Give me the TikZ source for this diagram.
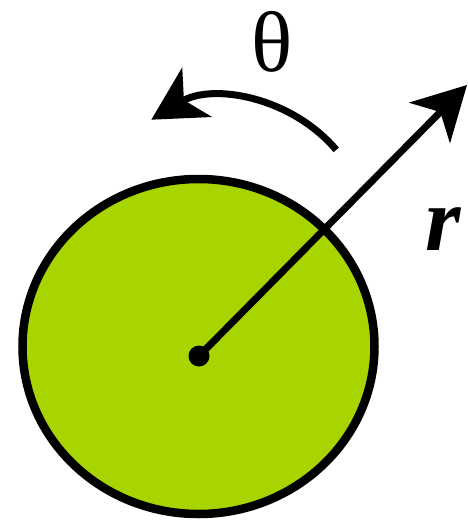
\documentclass[tikz,border=0pt]{standalone}
\usepackage{fontspec}
\setmainfont{Liberation Serif}
\usetikzlibrary{arrows.meta,shapes.geometric}
\definecolor{diskgreen}{RGB}{168,212,0}
\begin{document}
\begin{tikzpicture}[x=1pt,y=-1pt,
  disk/.style={ellipse, draw=black, fill=diskgreen, line width=8.5pt, inner sep=0pt, minimum width=352pt, minimum height=335pt},
  hub/.style={circle, fill=black, inner sep=0pt, minimum size=21pt},
  vec/.style={line width=7pt, -{Stealth[length=53pt,width=57pt,inset=15pt]}},
  lab/.style={inner sep=0pt, anchor=base}]
\useasboundingbox (0,0) rectangle (468,520);
\node[disk] (disk) at (198.5,346.5) {};
\node[hub] (hub) at (199,356) {};
\coordinate (rtip) at (467,85);
\draw[vec] (hub.center) -- (rtip);
\coordinate (arcc) at (226,244);
\draw[vec] (arcc) ++(-40.5:145) arc[start angle=-40.5, end angle=-121, radius=145];
\node[lab, font=\fontsize{86}{86}\selectfont] (theta) at (272,71) {θ};
\node[lab, font=\fontsize{91}{91}\selectfont] (r) at (444,250) {\textbf{\textit{r}}};
\end{tikzpicture}
\end{document}
